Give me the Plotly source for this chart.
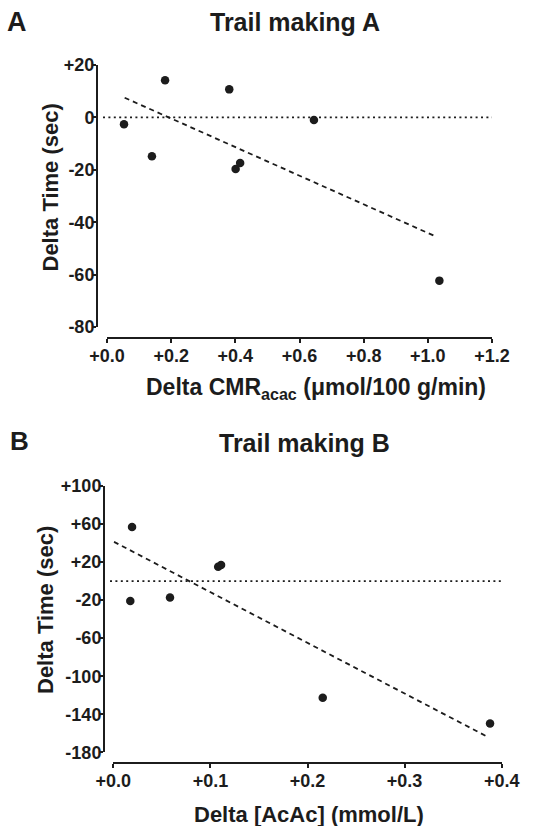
import plotly.graph_objects as go

# ---- Panel A data: Trail making A ----
a_x = [0.053, 0.140, 0.181, 0.381, 0.401, 0.415, 0.645, 1.036]
a_y = [-2.6, -14.8, 14.2, 10.7, -19.7, -17.4, -1.0, -62.3]
a_fit_x = [0.055, 1.022]
a_fit_y = [7.5, -45.3]
a_xticks = [0.0, 0.2, 0.4, 0.6, 0.8, 1.0, 1.2]
a_xtext = ["+0.0", "+0.2", "+0.4", "+0.6", "+0.8", "+1.0", "+1.2"]
a_yticks = [20, 0, -20, -40, -60, -80]
a_ytext = ["+20", "0", "-20", "-40", "-60", "-80"]

# ---- Panel B data: Trail making B ----
b_x = [0.0175, 0.0193, 0.0584, 0.108, 0.111, 0.2157, 0.388]
b_y = [-21, 57, -17.2, 15, 17, -122.7, -149.6]
b_fit_x = [0.0007, 0.3835]
b_fit_y = [41.3, -162.7]
b_xticks = [0.0, 0.1, 0.2, 0.3, 0.4]
b_xtext = ["+0.0", "+0.1", "+0.2", "+0.3", "+0.4"]
b_yticks = [100, 60, 20, -20, -60, -100, -140, -180]
b_ytext = ["+100", "+60", "+20", "-20", "-60", "-100", "-140", "-180"]

W, H = 544, 826
INK = "#1c1c1c"
FONT = "Liberation Sans, Arial, sans-serif"


def px(x):
    return x / W


def py(y):
    return 1 - y / H


fig = go.Figure()

# Panel A traces
fig.add_trace(go.Scatter(x=a_fit_x, y=a_fit_y, mode="lines",
                         line=dict(color=INK, width=1.8, dash="5px,4px"),
                         xaxis="x", yaxis="y", showlegend=False))
fig.add_trace(go.Scatter(x=a_x, y=a_y, mode="markers",
                         marker=dict(color=INK, size=8.5),
                         xaxis="x", yaxis="y", showlegend=False))
# Panel B traces
fig.add_trace(go.Scatter(x=b_fit_x, y=b_fit_y, mode="lines",
                         line=dict(color=INK, width=1.8, dash="5px,4px"),
                         xaxis="x2", yaxis="y2", showlegend=False))
fig.add_trace(go.Scatter(x=b_x, y=b_y, mode="markers",
                         marker=dict(color=INK, size=8.5),
                         xaxis="x2", yaxis="y2", showlegend=False))

tickfont = dict(family=FONT, size=18, color=INK, weight="bold")
axcommon = dict(showgrid=False, zeroline=False, showline=True, linecolor=INK,
                linewidth=2, ticks="outside", ticklen=4, tickwidth=2,
                tickcolor=INK, tickfont=tickfont, tickmode="array",
                automargin=False)
xcommon = dict(axcommon, ticklabelstandoff=-3)
ycommon = dict(axcommon, ticklabelstandoff=-6)

fig.update_layout(
    template="none",
    width=W, height=H, autosize=False,
    margin=dict(l=0, r=0, t=0, b=0, pad=0),
    paper_bgcolor="white", plot_bgcolor="white",
    xaxis=dict(xcommon, domain=[px(107), px(492)], range=[0, 1.2],
               anchor="free", position=py(338),
               tickvals=a_xticks, ticktext=a_xtext),
    yaxis=dict(ycommon, domain=[py(327), py(65)], range=[-80, 20],
               anchor="free", position=px(97),
               tickvals=a_yticks, ticktext=a_ytext),
    xaxis2=dict(xcommon, domain=[px(113.3), px(501.7)], range=[0, 0.4],
                anchor="free", position=py(763.3),
                tickvals=b_xticks, ticktext=b_xtext),
    yaxis2=dict(ycommon, domain=[py(752.3), py(486)], range=[-180, 100],
                anchor="free", position=px(104),
                tickvals=b_yticks, ticktext=b_ytext),
)

# dotted zero reference lines
fig.add_shape(type="line", xref="paper", yref="y", x0=px(103), x1=px(492),
              y0=0, y1=0, line=dict(color=INK, width=1.8, dash="2px,3.4px"))
fig.add_shape(type="line", xref="paper", yref="y2", x0=px(110), x1=px(503),
              y0=0, y1=0, line=dict(color=INK, width=1.8, dash="2px,3.4px"))


def ann(text, x, y, size, angle=0):
    fig.add_annotation(text=text, x=px(x), y=py(y), xref="paper", yref="paper",
                       xanchor="center", yanchor="middle", showarrow=False,
                       textangle=angle,
                       font=dict(family=FONT, size=size, color=INK, weight="bold"))


# panel letters and titles
ann("A", 17, 22, 27)
ann("Trail making A", 295, 22, 25)
ann("B", 19, 441, 26)
ann("Trail making B", 304, 443, 25)

# axis titles
ann("Delta Time (sec)", 50, 187.5, 22, -90)
ann("Delta CMR<sub>acac</sub> (\u03bcmol/100 g/min)", 316, 388, 23)
ann("Delta Time (sec)", 45, 610, 22, -90)
ann("Delta [AcAc] (mmol/L)", 308.5, 814, 22)

fig.write_html("out.html",
               config={"displayModeBar": False, "staticPlot": True},
               post_script="document.body.style.margin='0';"
                           "document.documentElement.style.overflow='hidden';")
